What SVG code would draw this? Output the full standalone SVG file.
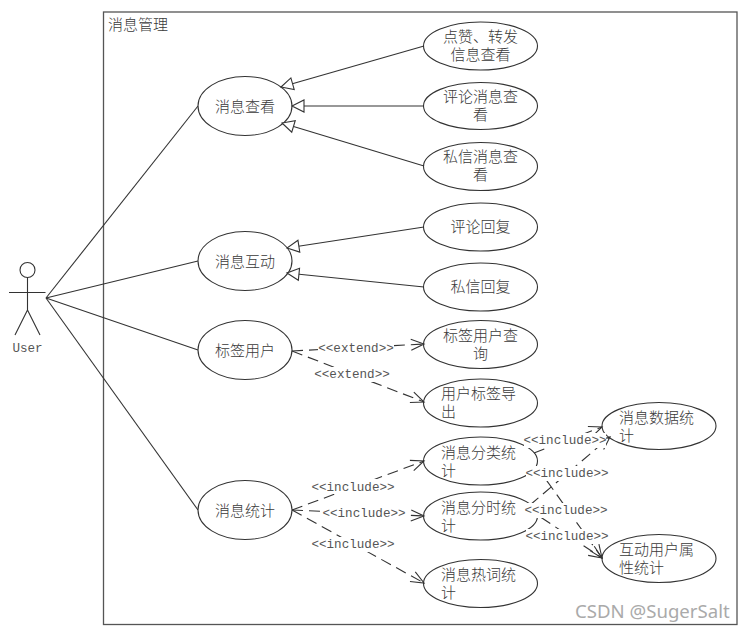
<svg xmlns="http://www.w3.org/2000/svg" width="746" height="633" viewBox="0 0 746 633">
<style>
.n{fill:#fff;stroke:#333;stroke-width:1.1}
.t{font-family:"Noto Sans CJK SC",sans-serif;font-size:15px;font-weight:300;fill:#3a3a3a;text-anchor:middle}
.l{font-family:"Noto Sans CJK SC",sans-serif;font-size:15px;font-weight:300;fill:#3a3a3a}
.m{font-family:"Liberation Mono",monospace;font-size:12.6px;fill:#555;text-anchor:middle}
.c{fill:none;stroke:#333;stroke-width:1.1}
.g{marker-end:url(#tri)}
.d{stroke-dasharray:11 6;marker-end:url(#open)}
.w{fill:#fff;stroke:none}
</style>
<defs>
<marker id="tri" markerUnits="userSpaceOnUse" markerWidth="16" markerHeight="16" refX="13" refY="7" orient="auto" overflow="visible"><path d="M13,7 L1,1 L1,13 Z" fill="#fff" stroke="#333" stroke-width="1.1"/></marker>
<marker id="open" markerUnits="userSpaceOnUse" markerWidth="16" markerHeight="14" refX="14" refY="7" orient="auto" overflow="visible"><path d="M1,1.5 L14,7 L1,12.5" fill="none" stroke="#333" stroke-width="1.1"/></marker>
</defs>
<rect width="746" height="633" fill="#fff"/>
<g id="boundary"><rect x="103.5" y="12" width="633.5" height="612.5" fill="none" stroke="#555" stroke-width="1.3"/><text class="l" x="108" y="30">消息管理</text></g>
<g id="actor-user" class="c"><circle cx="27.5" cy="270" r="7.5"/><path d="M27.5,277.5V310M9,292.5H45.5M27.5,310L15,335M27.5,310L40,335"/><text class="m" x="27.5" y="352" stroke="none">User</text></g>
<g id="uc-view"><ellipse class="n" cx="245" cy="106" rx="47" ry="29.5"/><text class="t" x="245" y="112">消息查看</text></g>
<g id="uc-interact"><ellipse class="n" cx="245" cy="261" rx="47" ry="29.5"/><text class="t" x="245" y="267">消息互动</text></g>
<g id="uc-tag"><ellipse class="n" cx="245" cy="350" rx="47" ry="29.5"/><text class="t" x="245" y="356">标签用户</text></g>
<g id="uc-stat"><ellipse class="n" cx="245" cy="510" rx="47" ry="29.5"/><text class="t" x="245" y="516">消息统计</text></g>
<g id="uc-like"><ellipse class="n" cx="480.5" cy="46" rx="57" ry="24"/><text class="t" x="480.5" y="42">点赞、转发<tspan x="480.5" dy="18">信息查看</tspan></text></g>
<g id="uc-comment"><ellipse class="n" cx="480.5" cy="106" rx="57" ry="23.5"/><text class="t" x="480.5" y="102">评论消息查<tspan x="480.5" dy="18">看</tspan></text></g>
<g id="uc-dm"><ellipse class="n" cx="480.5" cy="166.5" rx="57" ry="24"/><text class="t" x="480.5" y="162">私信消息查<tspan x="480.5" dy="18">看</tspan></text></g>
<g id="uc-creply"><ellipse class="n" cx="480.5" cy="227" rx="57" ry="24"/><text class="t" x="480.5" y="232">评论回复</text></g>
<g id="uc-dreply"><ellipse class="n" cx="480.5" cy="287" rx="57" ry="24"/><text class="t" x="480.5" y="292">私信回复</text></g>
<g id="uc-tagq"><ellipse class="n" cx="480.5" cy="344.5" rx="57" ry="24"/><text class="t" x="480.5" y="341">标签用户查<tspan x="480.5" dy="18">询</tspan></text></g>
<g id="uc-tagx"><ellipse class="n" cx="480.5" cy="403" rx="57" ry="24"/><text class="l" x="441" y="399">用户标签导<tspan x="441" dy="18">出</tspan></text></g>
<g id="uc-cat"><ellipse class="n" cx="480.5" cy="461" rx="57" ry="24"/><text class="l" x="441" y="458">消息分类统<tspan x="441" dy="18">计</tspan></text></g>
<g id="uc-time"><ellipse class="n" cx="480.5" cy="516" rx="57" ry="24"/><text class="l" x="441" y="513">消息分时统<tspan x="441" dy="18">计</tspan></text></g>
<g id="uc-hot"><ellipse class="n" cx="480.5" cy="583.5" rx="57" ry="24"/><text class="l" x="441" y="580">消息热词统<tspan x="441" dy="18">计</tspan></text></g>
<g id="uc-data"><ellipse class="n" cx="659" cy="426" rx="57" ry="23.5"/><text class="l" x="619" y="423">消息数据统<tspan x="619" dy="18">计</tspan></text></g>
<g id="uc-user"><ellipse class="n" cx="659" cy="558.5" rx="57" ry="24"/><text class="l" x="619" y="555">互动用户属<tspan x="619" dy="18">性统计</tspan></text></g>
<g id="connectors">
<g class="c">
<path d="M46,298L198,106"/><path d="M46,298L198,261"/><path d="M46,298L198,350"/><path d="M46,298L198,510"/>
<path class="g" d="M424,46L281,87"/><path class="g" d="M424,106L292,106"/><path class="g" d="M424,166L282,123"/>
<path class="g" d="M424,227L287,248"/><path class="g" d="M424,287L287,273"/>
<path class="d" d="M292,351L424,344"/><path class="d" d="M292,351L424,402"/>
<path class="d" d="M292,510L424,461"/><path class="d" d="M292,510L424,516"/><path class="d" d="M292,510L424,583"/>
<path class="d" d="M534,453L602,427"/><path class="d" d="M537,467L602,558"/><path class="d" d="M530,505L610,437"/><path class="d" d="M527,508L602,558"/>
</g>
<rect class="w" x="318" y="341" width="76" height="15"/><text class="m" x="356" y="352">&lt;&lt;extend&gt;&gt;</text>
<rect class="w" x="314" y="367" width="76" height="15"/><text class="m" x="352" y="378">&lt;&lt;extend&gt;&gt;</text>
<rect class="w" x="311" y="479" width="84" height="15"/><text class="m" x="353" y="491">&lt;&lt;include&gt;&gt;</text>
<rect class="w" x="322" y="506" width="84" height="15"/><text class="m" x="364" y="517">&lt;&lt;include&gt;&gt;</text>
<rect class="w" x="311" y="537" width="84" height="15"/><text class="m" x="353" y="548">&lt;&lt;include&gt;&gt;</text>
<rect class="w" x="524" y="433" width="82" height="15"/><text class="m" x="565" y="444">&lt;&lt;include&gt;&gt;</text>
<rect class="w" x="526" y="466" width="82" height="15"/><text class="m" x="567" y="477">&lt;&lt;include&gt;&gt;</text>
<rect class="w" x="525" y="503" width="82" height="15"/><text class="m" x="566" y="514">&lt;&lt;include&gt;&gt;</text>
<rect class="w" x="526" y="529" width="82" height="15"/><text class="m" x="567" y="540">&lt;&lt;include&gt;&gt;</text>
</g>
<text x="575" y="618" font-family="Noto Sans,sans-serif" font-size="18.6" fill="#aaa">CSDN @SugerSalt</text>
</svg>
